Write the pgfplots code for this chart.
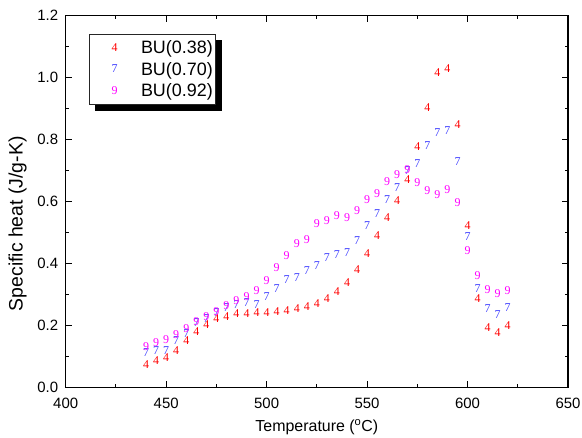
\documentclass[border=0pt]{standalone}
\usepackage{fontspec}
\setmainfont{Liberation Sans}
\newfontfamily\markfont{Liberation Serif}
\usepackage{pgfplots}
\pgfplotsset{compat=1.18}
\usetikzlibrary{shadows}
\definecolor{cred}{RGB}{255,0,0}
\definecolor{cblue}{RGB}{60,60,255}
\definecolor{cmag}{RGB}{255,0,255}
\begin{document}
\begin{tikzpicture}
\begin{axis}[
  width=502.3bp, height=371.6bp, scale only axis,
  xmin=400, xmax=650, ymin=0, ymax=1.2,
  xtick={400,450,500,550,600,650},
  ytick={0,0.2,0.4,0.6,0.8,1.0,1.2},
  minor x tick num=1, minor y tick num=1,
  tick align=inside,
  major tick length=6bp, minor tick length=3bp,
  axis line style={line width=1.2bp, black},
  every tick/.style={line width=1bp, black},
  /pgf/number format/assume math mode=true,
  tick label style={font=\fontsize{15}{15}\selectfont},
  yticklabel style={xshift=-4bp, /pgf/number format/fixed, /pgf/number format/fixed zerofill, /pgf/number format/precision=1},
  xticklabel style={yshift=-7bp},
  xlabel={Temperature (\textsuperscript{o}C)},
  ylabel={Specific heat (J/g-K)},
  xlabel style={font=\fontsize{16}{16}\selectfont, at={(axis description cs:0.5,-0.108)}, anchor=center},
  ylabel style={font=\fontsize{19.5}{19.5}\selectfont, at={(axis description cs:-0.096,0.44)}, anchor=center},
  legend style={at={(0.0454,0.9508)}, anchor=north west, draw=black!85, line width=1bp,
    fill=white, font=\fontsize{18}{18}\selectfont,
    drop shadow={shadow xshift=6bp, shadow yshift=-6bp, fill=black, opacity=1},
    nodes={inner sep=0bp},
    row sep=7bp, column sep=4bp, inner xsep=3bp, inner ysep=6.5bp},
  legend cell align=left,
  legend image code/.code={\path (0bp,0bp) (44bp,0bp); \draw[mark repeat=2,mark phase=2,#1] plot coordinates {(0bp,0bp) (22bp,0bp) (44bp,0bp)};},
  text mark as node=true,
]
\addplot[only marks, color=cred, mark=text, text mark={4},
  text mark style={font=\markfont\fontsize{12}{12}\selectfont, text=cred, inner sep=0pt, anchor=center}]
coordinates {
(440,0.075)(445,0.085)(450,0.097)(455,0.118)(460,0.150)(465,0.180)(470,0.203)(475,0.221)
(480,0.230)(485,0.238)(490,0.239)(495,0.240)(500,0.242)(505,0.244)(510,0.247)(515,0.255)
(520,0.260)(525,0.271)(530,0.287)(535,0.309)(540,0.338)(545,0.381)(550,0.433)(555,0.489)
(560,0.549)(565,0.603)(570,0.672)(575,0.779)(580,0.903)(585,1.016)(590,1.028)(595,0.847)
(600,0.522)(605,0.286)(610,0.194)(615,0.176)(620,0.198)
};
\addlegendentry{BU(0.38)}
\addplot[only marks, color=cblue, mark=text, text mark={7},
  text mark style={font=\markfont\fontsize{12}{12}\selectfont, text=cblue, inner sep=0pt, anchor=center}]
coordinates {
(440,0.112)(445,0.117)(450,0.120)(455,0.150)(460,0.174)(465,0.209)(470,0.223)(475,0.241)
(480,0.258)(485,0.268)(490,0.272)(495,0.267)(500,0.293)(505,0.320)(510,0.349)(515,0.354)
(520,0.377)(525,0.392)(530,0.419)(535,0.427)(540,0.435)(545,0.473)(550,0.521)(555,0.562)
(560,0.605)(565,0.646)(570,0.700)(575,0.722)(580,0.779)(585,0.823)(590,0.829)(595,0.728)
(600,0.486)(605,0.318)(610,0.255)(615,0.236)(620,0.258)
};
\addlegendentry{BU(0.70)}
\addplot[only marks, color=cmag, mark=text, text mark={9},
  text mark style={font=\markfont\fontsize{12}{12}\selectfont, text=cmag, inner sep=0pt, anchor=center}]
coordinates {
(440,0.131)(445,0.144)(450,0.153)(455,0.169)(460,0.190)(465,0.212)(470,0.228)(475,0.246)
(480,0.263)(485,0.280)(490,0.293)(495,0.311)(500,0.345)(505,0.387)(510,0.424)(515,0.465)
(520,0.478)(525,0.530)(530,0.538)(535,0.555)(540,0.547)(545,0.570)(550,0.607)(555,0.626)
(560,0.665)(565,0.686)(570,0.702)(575,0.661)(580,0.635)(585,0.621)(590,0.639)(595,0.597)
(600,0.441)(605,0.362)(610,0.317)(615,0.301)(620,0.311)
};
\addlegendentry{BU(0.92)}
\end{axis}
\pgfresetboundingbox
\path[use as bounding box] (-65.7bp,-50.7bp) rectangle (516.3bp,387.3bp);
\end{tikzpicture}
\end{document}
